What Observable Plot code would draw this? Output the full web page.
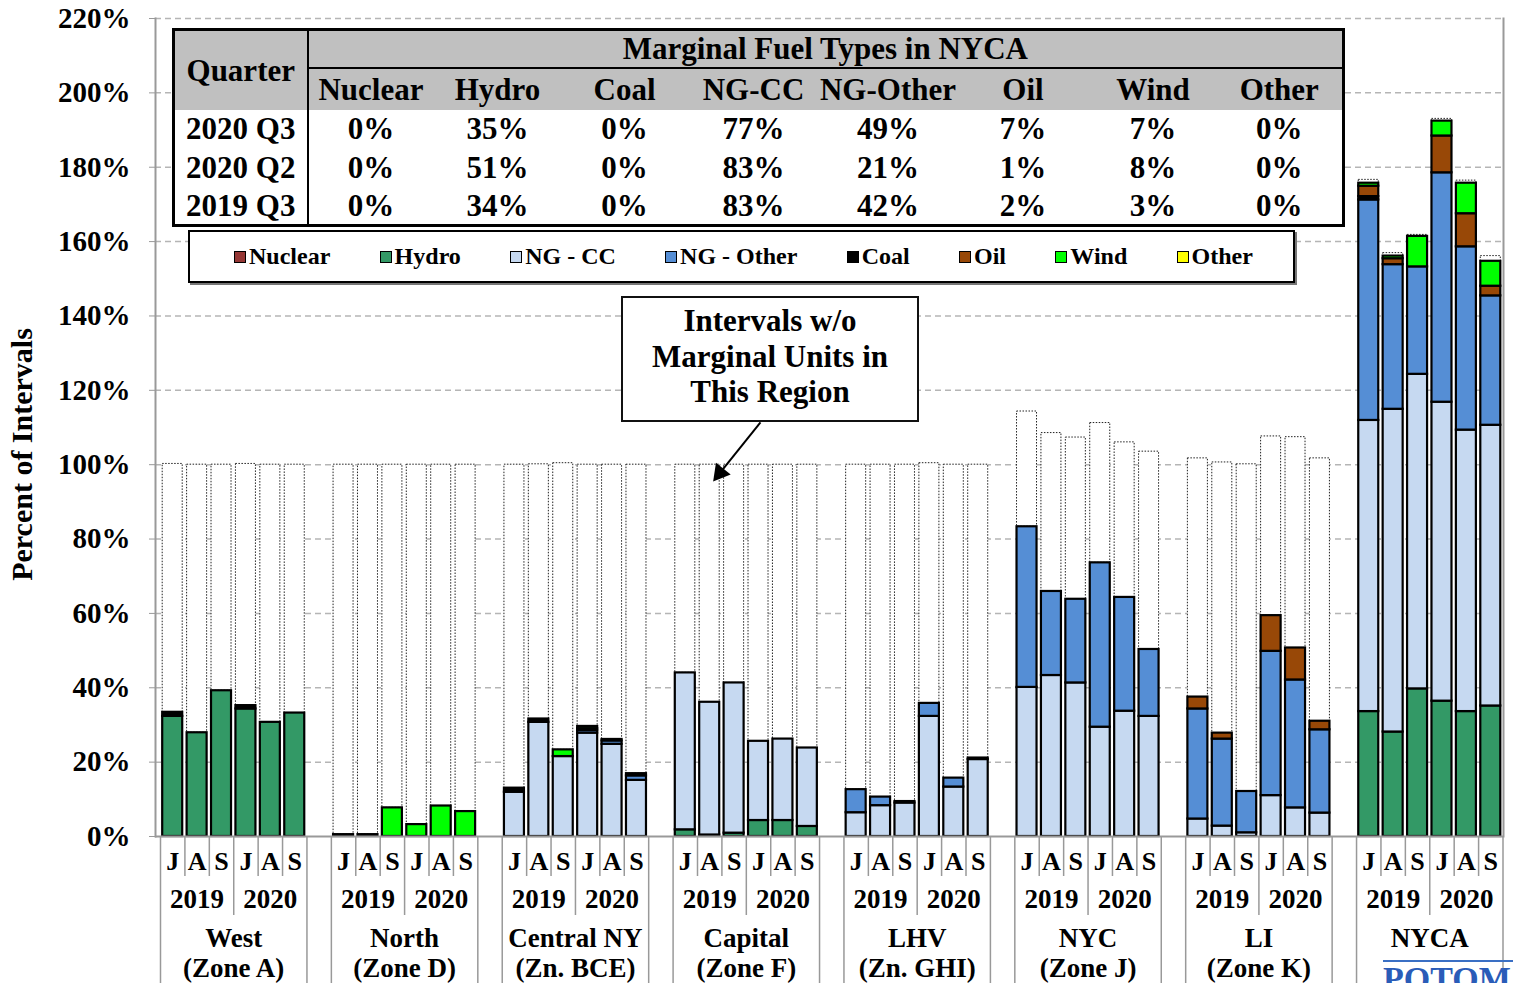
<!DOCTYPE html>
<html>
<head>
<meta charset="utf-8">
<script src="https://cdn.jsdelivr.net/npm/d3@7"></script>
<script src="https://cdn.jsdelivr.net/npm/@observablehq/plot@0.6"></script>
<style>
  body { margin: 0; background: #fff; }
  #wrap { position: relative; width: 1513px; height: 983px; overflow: hidden;
          font-family: "Liberation Serif", "Times New Roman", serif; font-weight: bold; color: #000; }
  #wrap svg { position: absolute; left: 0; top: 0; }
  .ovl { position: absolute; box-sizing: border-box; background: #fff; }
  table.fuel { position: absolute; left: 172px; top: 28px; width: 1170px; height: 196px;
               border-collapse: collapse; table-layout: fixed; border: 3px solid #000; background: #fff; }
  table.fuel td { padding: 0; text-align: center; font-size: 31px; line-height: 1; white-space: nowrap; }
  table.fuel td.g { background: #c0c0c0; }
  table.fuel td.qc { border-right: 2.5px solid #000; }
  table.fuel td.top { border-bottom: 2.5px solid #000; }
  .legend { left: 188px; top: 230px; width: 1107px; height: 53px; border: 2px solid #000;
            box-shadow: 2px 2px 0 #777; display: flex; align-items: center; justify-content: flex-start;
            gap: 49.3px; padding-left: 44px; font-size: 24px; }
  .legend .sw { display: inline-block; width: 10px; height: 10px; border: 1.5px solid #000; margin-right: 3px; vertical-align: 1px; }
  .note { left: 621px; top: 296px; width: 298px; height: 126px; border: 2px solid #111;
          text-align: center; font-size: 31px; line-height: 35.5px; padding-top: 5px; white-space: nowrap; }
  .logo { left: 1383px; top: 960px; width: 130px; height: 23px; overflow: hidden;
          border-top: 2px solid #3a6fc4; color: #2a5cb8; font-size: 34px; line-height: 34px; background: transparent; }
</style>
</head>
<body>
<div id="wrap"></div>
<script>
// ---------------- data ----------------
const regions = ["West", "North", "Central NY", "Capital", "LHV", "NYC", "LI", "NYCA"];
const zones = ["(Zone A)", "(Zone D)", "(Zn. BCE)", "(Zone F)", "(Zn. GHI)", "(Zone J)", "(Zone K)", ""];
const months = ["J", "A", "S", "J", "A", "S"];
const years = ["2019", "2020"];

const fuels = ["Nuclear", "Hydro", "NG - CC", "NG - Other", "Coal", "Oil", "Wind", "Other"];
const fuelColors = ["#953735", "#339966", "#c6d9f1", "#558ed5", "#000000", "#984807", "#00ff00", "#ffff00"];

// Each series: 8 regions x 6 months (Jul, Aug, Sep 2019; Jul, Aug, Sep 2020), percent of intervals
const nuclear = [
  0, 0, 0, 0, 0, 0,
  0, 0, 0, 0, 0, 0,
  0, 0, 0, 0, 0, 0,
  0, 0, 0, 0, 0, 0,
  0, 0, 0, 0, 0, 0,
  0, 0, 0, 0, 0, 0,
  0, 0, 0, 0, 0, 0,
  0, 0, 0, 0, 0, 0];
const hydro = [
  32.3, 27.9, 39.2, 34.3, 30.7, 33.2,
  0.5, 0.5, 0, 0, 0, 0,
  0, 0, 0, 0, 0, 0,
  1.8, 0.4, 0.9, 4.3, 4.3, 2.7,
  0, 0, 0, 0, 0, 0,
  0, 0, 0, 0, 0, 0,
  0, 0, 0, 0, 0, 0,
  33.6, 28.1, 39.7, 36.4, 33.6, 35.1];
const ngCC = [
  0, 0, 0, 0, 0, 0,
  0, 0, 0, 0, 0, 0,
  11.9, 30.7, 21.5, 27.8, 24.8, 15.1,
  42.2, 35.7, 40.4, 21.3, 21.9, 21.1,
  6.4, 8.3, 9.0, 32.3, 13.3, 20.7,
  40.1, 43.3, 41.3, 29.4, 33.7, 32.3,
  4.7, 2.8, 1.0, 11.0, 7.7, 6.3,
  78.3, 86.8, 84.6, 80.4, 75.7, 75.5];
const ngOther = [
  0, 0, 0, 0, 0, 0,
  0, 0, 0, 0, 0, 0,
  0, 0, 0, 0.7, 0.9, 1.2,
  0, 0, 0, 0, 0, 0,
  6.2, 2.3, 0, 3.5, 2.4, 0,
  43.2, 22.6, 22.5, 44.2, 30.6, 18.0,
  29.6, 23.4, 11.1, 38.8, 34.4, 22.4,
  59.3, 38.9, 28.9, 61.7, 49.3, 34.8];
const coal = [
  1.1, 0, 0, 0.9, 0, 0,
  0, 0, 0, 0, 0, 0,
  1.1, 0.9, 0, 0.5, 0.4, 0.6,
  0, 0, 0, 0, 0, 0,
  0, 0, 0.4, 0, 0, 0.4,
  0, 0, 0, 0, 0, 0,
  0, 0, 0, 0, 0, 0,
  0.9, 0, 0, 0, 0, 0];
const oil = [
  0, 0, 0, 0, 0, 0,
  0, 0, 0, 0, 0, 0,
  0, 0, 0, 0, 0, 0,
  0, 0, 0, 0, 0, 0,
  0, 0, 0, 0, 0, 0,
  0, 0, 0, 0, 0, 0,
  3.2, 1.6, 0, 9.6, 8.6, 2.3,
  2.8, 1.6, 0, 9.9, 8.9, 2.6];
const wind = [
  0, 0, 0, 0, 0, 0,
  0, 0, 7.7, 3.2, 8.2, 6.7,
  0, 0, 1.8, 0.6, 0, 0,
  0, 0, 0, 0, 0, 0,
  0, 0, 0, 0, 0, 0,
  0, 0, 0, 0, 0, 0,
  0, 0, 0, 0, 0, 0,
  0.8, 0.7, 8.2, 4.0, 8.2, 6.7];
const other = [
  0, 0, 0, 0, 0, 0,
  0, 0, 0, 0, 0, 0,
  0, 0, 0, 0, 0, 0,
  0, 0, 0, 0, 0, 0,
  0, 0, 0, 0, 0, 0,
  0, 0, 0, 0, 0, 0,
  0, 0, 0, 0, 0, 0,
  0, 0, 0, 0, 0, 0];
// Intervals without marginal units in the region (white dotted segment on top)
const noMarginal = [
  66.8, 72.1, 60.8, 65.0, 69.3, 66.8,
  99.5, 99.5, 92.3, 96.8, 91.8, 93.3,
  87.0, 68.5, 77.1, 70.4, 73.9, 83.1,
  56.0, 63.9, 58.7, 74.4, 73.8, 76.2,
  87.4, 89.4, 90.6, 64.6, 84.3, 78.9,
  31.0, 42.6, 43.5, 37.6, 41.7, 53.2,
  64.2, 72.8, 88.0, 48.2, 56.7, 70.7,
  0.9, 0.8, 0.4, 0.6, 0.7, 1.4];

// Table: Marginal Fuel Types in NYCA
const tableQuarters = ["2020 Q3", "2020 Q2", "2019 Q3"];
const tableFuels = ["Nuclear", "Hydro", "Coal", "NG-CC", "NG-Other", "Oil", "Wind", "Other"];
const share2020Q3 = [0, 35, 0, 77, 49, 7, 7, 0];
const share2020Q2 = [0, 51, 0, 83, 21, 1, 8, 0];
const share2019Q3 = [0, 34, 0, 83, 42, 2, 3, 0];

const yTicks = [0, 20, 40, 60, 80, 100, 120, 140, 160, 180, 200, 220];
const noteText = ["Intervals w/o", "Marginal Units in", "This Region"];
// annotation arrow: from note box to Capital, Aug 2019 blank segment
const noteArrow = [{x1: 24.58, y1: 111.4, x2: 22.74, y2: 96.3}];

// ---------------- build ----------------
const series = [nuclear, hydro, ngCC, ngOther, coal, oil, wind, other];
const slotsPerRegion = 7;
const bars = [], blanks = [];
regions.forEach((reg, r) => months.forEach((m, p) => {
  const i = r * 6 + p, slot = r * slotsPerRegion + p;
  let cum = 0;
  series.forEach((s, k) => {
    const v = s[i];
    if (v > 0) bars.push({x1: slot, x2: slot + 1, y1: cum, y2: cum + v, fuel: fuels[k]});
    cum += v;
  });
  blanks.push({x1: slot, x2: slot + 1, y1: cum, y2: cum + noMarginal[i]});
}));

const monthLabels = [], yearLabels = [], regionLabels = [];
const monthSeps = [], yearSeps = [], regionSeps = [];
regions.forEach((reg, r) => {
  const base = r * slotsPerRegion;
  months.forEach((m, p) => monthLabels.push({x: base + p + 0.5, text: m}));
  years.forEach((y, k) => yearLabels.push({x: base + k * 3 + 1.5, text: y}));
  regionLabels.push({x: base + 3, name: reg, zone: zones[r]});
  [1, 2, 4, 5].forEach(o => monthSeps.push(base + o));
  yearSeps.push(base + 3);
  regionSeps.push(base, base + 6);
});

const W = 1513, H = 983, mTop = 18, mBottom = 147;
const pxPerUnit = (H - mTop - mBottom) / 220;
const down = px => -px / pxPerUnit; // y value a given number of pixels below the axis

// arrow head: filled triangle at the tip, pointing along the arrow
const xPx = 1342.5 / 55;
const dxPx = (noteArrow[0].x2 - noteArrow[0].x1) * xPx, dyPx = -(noteArrow[0].y2 - noteArrow[0].y1) * pxPerUnit;
const len = Math.hypot(dxPx, dyPx);
const headAngle = Math.atan2(dxPx, -dyPx) * 180 / Math.PI;
const headBack = 7;

const axisMarks = Plot.axisY ? [Plot.axisY(yTicks, {
  tickFormat: d => d + "%", tickSize: 6, tickPadding: 19, stroke: "#999", fill: "#000",
  fontSize: 29, fontWeight: "bold", label: null
})] : [];

const plot = Plot.plot({
  width: W, height: H,
  marginTop: mTop, marginBottom: mBottom, marginLeft: 155, marginRight: 10,
  style: {fontFamily: "Liberation Serif, Times New Roman, serif", fontWeight: "bold", fontSize: "29px", background: "transparent", color: "#000"},
  x: {domain: [0, 55], range: [160, 1502.5], axis: null},
  y: {domain: [0, 220], ticks: yTicks, tickFormat: d => d + "%", tickSize: 6, tickPadding: 19, label: null},
  color: {domain: fuels, range: fuelColors},
  marks: [
    Plot.ruleY(yTicks.slice(1), {stroke: "#b5b5b5", strokeWidth: 1.5, strokeDasharray: "6,4"}),
    Plot.frame({anchor: "left", stroke: "#999", strokeWidth: 2}),
    Plot.frame({anchor: "right", stroke: "#999", strokeWidth: 2}),
    ...axisMarks,
    Plot.rect(blanks, {x1: "x1", x2: "x2", y1: "y1", y2: "y2", fill: "white", stroke: "#222",
      strokeWidth: 1, strokeDasharray: "1.5,1.5", insetLeft: 2.2, insetRight: 2.2}),
    Plot.rect(bars, {x1: "x1", x2: "x2", y1: "y1", y2: "y2", fill: "fuel", stroke: "#000",
      strokeWidth: 2.2, insetLeft: 2.2, insetRight: 2.2}),
    Plot.ruleY([0], {stroke: "#999", strokeWidth: 2}),
    Plot.ruleX(monthSeps, {x: d => d, y1: 0, y2: down(40), stroke: "#999", strokeWidth: 1.5}),
    Plot.ruleX(yearSeps, {x: d => d, y1: 0, y2: down(79), stroke: "#999", strokeWidth: 1.5}),
    Plot.ruleX(regionSeps, {x: d => d, y1: 0, y2: down(150), stroke: "#999", strokeWidth: 1.5}),
    Plot.text(monthLabels, {x: "x", y: 0, dy: 25, text: "text", fontSize: 26, fontWeight: "bold", fill: "#000"}),
    Plot.text(yearLabels, {x: "x", y: 0, dy: 63, text: "text", fontSize: 27, fontWeight: "bold", fill: "#000"}),
    Plot.text(regionLabels, {x: "x", y: 0, dy: 102, text: "name", fontSize: 27, fontWeight: "bold", fill: "#000"}),
    Plot.text(regionLabels, {x: "x", y: 0, dy: 132, text: "zone", fontSize: 27, fontWeight: "bold", fill: "#000"}),
    Plot.text(["Percent of Intervals"], {frameAnchor: "left", textAnchor: "middle", rotate: -90, dx: -133, dy: 27,
      fontSize: 30, fontWeight: "bold", fill: "#000"}),
    Plot.link(noteArrow, {x1: "x1", y1: "y1", x2: "x2", y2: "y2", stroke: "#000", strokeWidth: 2}),
    Plot.dot(noteArrow, {x: "x2", y: "y2", symbol: "triangle", r: 7, fill: "#000", stroke: "none",
      rotate: headAngle, dx: -dxPx / len * headBack, dy: -dyPx / len * headBack})
  ]
});

const wrap = document.getElementById("wrap");
wrap.appendChild(plot);

// table
const shares = [share2020Q3, share2020Q2, share2019Q3];
const colWidths = [134, 126, 128, 126, 132, 137, 133, 127, 127];
let html = '<table class="fuel"><colgroup>' + colWidths.map(w => `<col style="width:${w}px">`).join("") + '</colgroup>';
html += `<tr style="height:38px"><td class="g qc" rowspan="2">Quarter</td><td class="g top" colspan="${tableFuels.length}">Marginal Fuel Types in NYCA</td></tr>`;
html += '<tr style="height:42px">' + tableFuels.map(f => `<td class="g">${f}</td>`).join("") + '</tr>';
tableQuarters.forEach((q, i) => {
  html += '<tr style="height:38.6px"><td class="qc">' + q + '</td>' + shares[i].map(v => `<td>${v}%</td>`).join("") + '</tr>';
});
html += '</table>';
const tdiv = document.createElement("div");
tdiv.innerHTML = html;
wrap.appendChild(tdiv.firstChild);

// legend
const leg = document.createElement("div");
leg.className = "ovl legend";
leg.innerHTML = fuels.map((f, i) => `<span><span class="sw" style="background:${fuelColors[i]}"></span>${f}</span>`).join("");
wrap.appendChild(leg);

// note box
const note = document.createElement("div");
note.className = "ovl note";
note.innerHTML = noteText.join("<br>");
wrap.appendChild(note);

// partial logo at the bottom right (cut off by the picture edge, as in the original)
const logo = document.createElement("div");
logo.className = "ovl logo";
logo.textContent = "POTOMAC";
wrap.appendChild(logo);
</script>
</body>
</html>
